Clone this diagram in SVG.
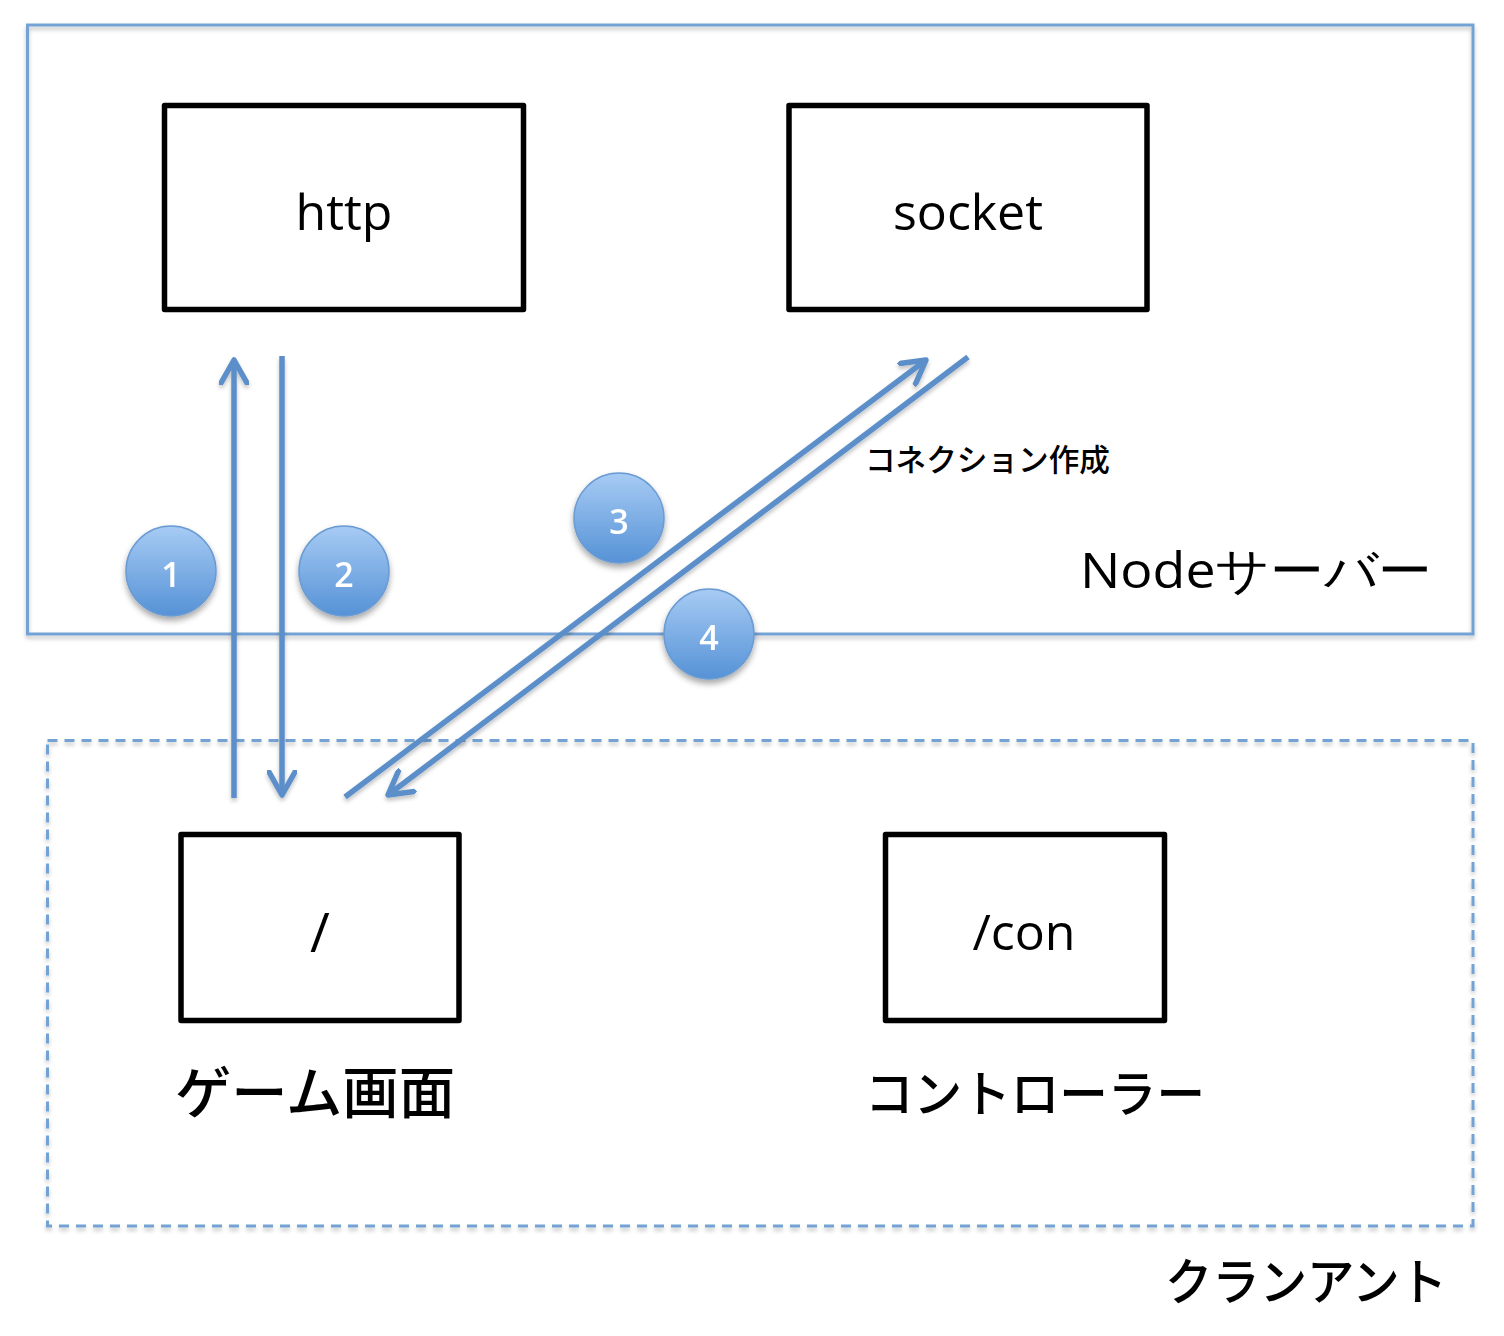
<svg xmlns="http://www.w3.org/2000/svg" width="1504" height="1336" viewBox="0 0 1504 1336">
<defs>
  <filter id="sh" x="-10%" y="-10%" width="120%" height="130%">
    <feGaussianBlur in="SourceAlpha" stdDeviation="2"/>
    <feOffset dx="0" dy="3" result="b"/>
    <feComponentTransfer><feFuncA type="linear" slope="0.25"/></feComponentTransfer>
    <feMerge><feMergeNode/><feMergeNode in="SourceGraphic"/></feMerge>
  </filter>
  <filter id="csh" x="-30%" y="-30%" width="160%" height="170%">
    <feGaussianBlur in="SourceAlpha" stdDeviation="3"/>
    <feOffset dx="0" dy="4" result="b"/>
    <feComponentTransfer><feFuncA type="linear" slope="0.35"/></feComponentTransfer>
    <feMerge><feMergeNode/><feMergeNode in="SourceGraphic"/></feMerge>
  </filter>
  <linearGradient id="cg" x1="0" y1="0" x2="0" y2="1">
    <stop offset="0" stop-color="#a7cbf4"/>
    <stop offset="1" stop-color="#5592d6"/>
  </linearGradient>
  <marker id="ah" viewBox="0 0 30 30" refX="25" refY="15" markerWidth="30" markerHeight="30" markerUnits="userSpaceOnUse" orient="auto">
    <path d="M2,2 L25,15 L2,28" fill="none" stroke="#5b8fc9" stroke-width="5.5" stroke-linecap="round" stroke-linejoin="round"/>
  </marker>
  <style>
    .frame{fill:none;stroke:#74a2d4;stroke-width:3}
    .dash{fill:none;stroke:#74a2d4;stroke-width:3;stroke-dasharray:10 7}
    .box{fill:#fff;stroke:#000;stroke-width:5.5;stroke-linejoin:round}
    .lat{font-family:"Open Sans","Noto Sans","Liberation Sans",sans-serif;fill:#000}
    .jp{font-family:"Noto Sans CJK JP","Noto Sans",sans-serif;fill:#000}
    .big{font-weight:500}
    .conn{stroke:#5b8fc9;stroke-width:5.5;fill:none}
    .circ{fill:url(#cg);stroke:#6a9bd3;stroke-width:1.5}
    .num{font-family:"Open Sans","Noto Sans","Liberation Sans",sans-serif;font-size:34px;font-weight:600;fill:#fff;text-anchor:middle}
  </style>
</defs>
<rect width="1504" height="1336" fill="#fff"/>

<g id="node-server">
  <rect class="frame" x="27.5" y="25" width="1445.5" height="609" filter="url(#sh)"/>
  <text class="lat" x="1080" y="588" font-size="50" textLength="352" lengthAdjust="spacingAndGlyphs">Nodeサーバー</text>
</g>

<g id="client">
  <rect class="dash" x="47.5" y="740.5" width="1425.5" height="485.5" filter="url(#sh)"/>
  <text class="jp big" x="1165" y="1300" font-size="50" textLength="282" lengthAdjust="spacingAndGlyphs">クランアント</text>
</g>

<g id="http">
  <rect class="box" x="164.5" y="105.5" width="359" height="204"/>
  <text class="lat" x="344" y="230" font-size="50" text-anchor="middle">http</text>
</g>

<g id="socket">
  <rect class="box" x="789" y="105.5" width="358" height="204"/>
  <text class="lat" x="968" y="230" font-size="50" text-anchor="middle">socket</text>
</g>

<g id="game">
  <rect class="box" x="181" y="834.5" width="278" height="186"/>
  <text class="lat" x="320" y="952" font-size="54" text-anchor="middle">/</text>
  <text class="jp big" x="175" y="1113" font-size="56" textLength="280" lengthAdjust="spacingAndGlyphs">ゲーム画面</text>
</g>

<g id="controller">
  <rect class="box" x="885.5" y="834.5" width="279" height="186"/>
  <text class="lat" x="1024" y="950" font-size="50" text-anchor="middle">/con</text>
  <text class="jp big" x="865" y="1112" font-size="50" textLength="340" lengthAdjust="spacingAndGlyphs">コントローラー</text>
</g>

<g id="connectors" filter="url(#sh)">
  <line class="conn" x1="234" y1="798" x2="234" y2="360" marker-end="url(#ah)"/>
  <line class="conn" x1="282" y1="356" x2="282" y2="795" marker-end="url(#ah)"/>
  <line class="conn" x1="345" y1="797" x2="926" y2="360" marker-end="url(#ah)"/>
  <line class="conn" x1="968" y1="357" x2="388" y2="795" marker-end="url(#ah)"/>
</g>

<g id="label-connection">
  <text class="jp big" x="865" y="471" font-size="31" textLength="245" lengthAdjust="spacingAndGlyphs">コネクション作成</text>
</g>

<g id="step1" filter="url(#csh)">
  <circle class="circ" cx="171" cy="571" r="45"/>
  <text class="num" x="171" y="587">1</text>
</g>
<g id="step2" filter="url(#csh)">
  <circle class="circ" cx="344" cy="571" r="45"/>
  <text class="num" x="344" y="587">2</text>
</g>
<g id="step3" filter="url(#csh)">
  <circle class="circ" cx="619" cy="518" r="45"/>
  <text class="num" x="619" y="534">3</text>
</g>
<g id="step4" filter="url(#csh)">
  <circle class="circ" cx="709" cy="634" r="45"/>
  <text class="num" x="709" y="650">4</text>
</g>
</svg>
